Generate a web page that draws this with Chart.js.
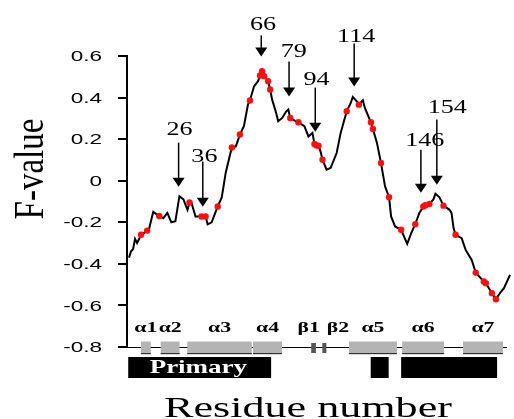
<!DOCTYPE html>
<html>
<head>
<meta charset="utf-8">
<style>
  html, body { margin: 0; padding: 0; background: #fff; }
  #wrap { width: 514px; height: 419px; }
</style>
<script src="https://cdn.jsdelivr.net/npm/chart.js@4/dist/chart.umd.min.js"></script>
</head>
<body>
<div id="wrap"><canvas id="fchart" width="514" height="419"></canvas></div>
<script>
'use strict';

// F-value per residue
var residues = [1, 2, 3, 4, 5, 7, 8, 10, 11, 13, 16, 18, 20, 22, 24, 26, 28, 30, 31, 32,
	34, 37, 39, 40, 42, 45, 47, 49, 51, 52, 54, 56, 58, 60, 61, 63, 65, 66, 67, 68,
	70, 71, 72, 74, 75, 77, 79, 80, 81, 83, 85, 88, 90, 92, 93, 94, 95, 96, 97, 99,
	101, 104, 106, 109, 111, 112, 114, 115, 117, 118, 121, 122, 124, 126, 128, 130, 131, 133, 136, 139,
	141, 143, 145, 147, 148, 150, 152, 153, 155, 157, 160, 161, 162, 163, 166, 168, 171, 173, 174, 177,
	178, 180, 181, 183, 185, 187, 190];
var fValues = [-0.37, -0.34, -0.33, -0.28, -0.30, -0.26, -0.255, -0.24, -0.23, -0.15, -0.17, -0.18, -0.155, -0.20, -0.195, -0.075, -0.09, -0.14, -0.105, -0.107,
	-0.172, -0.172, -0.172, -0.21, -0.20, -0.124, -0.08, 0.04, 0.12, 0.16, 0.165, 0.222, 0.262, 0.366, 0.386, 0.454, 0.479, 0.506, 0.527, 0.503,
	0.479, 0.439, 0.39, 0.326, 0.286, 0.302, 0.334, 0.342, 0.302, 0.29, 0.281, 0.262, 0.213, 0.23, 0.177, 0.17, 0.168, 0.141, 0.101, 0.053,
	0.061, 0.133, 0.23, 0.334, 0.374, 0.403, 0.382, 0.366, 0.387, 0.35, 0.281, 0.249, 0.182, 0.085, -0.027, -0.079, -0.172, -0.22, -0.236, -0.304,
	-0.252, -0.209, -0.156, -0.124, -0.118, -0.112, -0.09, -0.063, -0.08, -0.12, -0.14, -0.156, -0.228, -0.26, -0.276, -0.333, -0.381, -0.442, -0.453, -0.485,
	-0.493, -0.525, -0.541, -0.57, -0.541, -0.517, -0.453];

// residues marked with red dots
var sigResidues = [7, 10, 16, 31, 37, 39, 45, 52, 56, 61, 66, 67, 68, 70, 71, 81, 85, 93, 94, 95,
	97, 109, 115, 121, 122, 126, 130, 136, 143, 147, 148, 150, 157, 163, 173, 177, 178, 181, 183];

// y axis ticks
var yMin = -0.8, yMax = 0.6, yStep = 0.2;

// arrow labels
var markLabels = ['26', '36', '66', '79', '94', '114', '146', '154'];

// secondary structure (residue ranges)
var helixNames = ['α1', 'α2', 'α3', 'α4', 'α5', 'α6', 'α7'];
var helixStart = [6.9, 16.7, 29.9, 62.5, 110.1, 136.5, 166.7];
var helixEnd = [11.8, 26.1, 61.9, 76.9, 133.9, 157.3, 186.5];
var strandNames = ['β1', 'β2'];
var strandStart = [91.4, 96.9];
var strandEnd = [93.7, 98.9];
var regionNames = ['Primary', '', ''];
var regionStart = [0.6, 120.9, 136];
var regionEnd = [71.5, 129.8, 183.6];

// layout of the arrows (x in residues, y in F units)
var arrowLayout = {
	x: [25.6, 37.6, 66.6, 80.4, 93.4, 112.7, 145.8, 153.7],
	tip: [-0.029, -0.125, 0.598, 0.405, 0.236, 0.453, -0.058, -0.019],
	tail: [0.183, 0.092, 0.699, 0.573, 0.448, 0.66, 0.149, 0.294],
	textX: [26.1, 38.4, 67.5, 82.7, 94.0, 113.7, 147.7, 158.9],
	textY: [0.220, 0.090, 0.725, 0.597, 0.460, 0.669, 0.167, 0.324]
};
var strandLabelAt = [90.1, 104.6];
var backboneEnd = 188.5;

// the figure is stretched sideways, so is all its text
var STRETCH = 1.47;

function stretchText(ctx, text, x, y, sx){
	ctx.save();
	ctx.translate(x, y);
	ctx.scale(sx, 1);
	ctx.fillText(text, 0, 0);
	ctx.restore();
}

var points = residues.map(function(r, i){ return {x: r, y: fValues[i]}; });
var sigPoints = sigResidues.map(function(r){
	return {x: r, y: fValues[residues.indexOf(r)]};
});

var decorations = {
	id: 'decorations',
	afterDraw: function(chart){
		var ctx = chart.ctx,
			xs = chart.scales.x,
			ys = chart.scales.y,
			area = chart.chartArea,
			base = area.bottom,
			i, px, x1, x2;

		ctx.save();

		// y tick labels
		ctx.fillStyle = '#000';
		ctx.font = '15px "Liberation Sans"';
		ctx.textAlign = 'right';
		ctx.textBaseline = 'middle';
		ys.ticks.forEach(function(t){
			var label = Number(t.value.toFixed(1)).toString();
			stretchText(ctx, label, 102, ys.getPixelForValue(t.value) + 1, 1.5);
		});

		// arrows and their numbers
		ctx.strokeStyle = '#000';
		ctx.lineWidth = 1.5;
		for(i = 0; i < markLabels.length; i++){
			px = xs.getPixelForValue(arrowLayout.x[i]);
			var tip = ys.getPixelForValue(arrowLayout.tip[i]),
				tail = ys.getPixelForValue(arrowLayout.tail[i]);
			ctx.beginPath();
			ctx.moveTo(px, tail);
			ctx.lineTo(px, tip - 8);
			ctx.stroke();
			ctx.beginPath();
			ctx.moveTo(px - 6, tip - 9);
			ctx.lineTo(px + 6, tip - 9);
			ctx.lineTo(px, tip);
			ctx.closePath();
			ctx.fill();

			ctx.font = '18px "Liberation Serif"';
			ctx.textAlign = 'center';
			ctx.textBaseline = 'alphabetic';
			stretchText(ctx, markLabels[i], xs.getPixelForValue(arrowLayout.textX[i]),
				ys.getPixelForValue(arrowLayout.textY[i]), 1.45);
		}

		// backbone line
		ctx.lineWidth = 1;
		ctx.beginPath();
		ctx.moveTo(area.left, base + 0.5);
		ctx.lineTo(xs.getPixelForValue(backboneEnd), base + 0.5);
		ctx.stroke();

		// black regions under the structure
		for(i = 0; i < regionNames.length; i++){
			x1 = xs.getPixelForValue(regionStart[i]);
			x2 = xs.getPixelForValue(regionEnd[i]);
			ctx.fillStyle = '#000';
			ctx.fillRect(x1, base + 10, x2 - x1, 21);
			if(regionNames[i]){
				ctx.fillStyle = '#fff';
				ctx.font = 'bold 18px "Liberation Serif"';
				ctx.textAlign = 'center';
				stretchText(ctx, regionNames[i], xs.getPixelForValue(35.4), base + 26, 1.5);
			}
		}

		// helices
		ctx.font = 'bold 15px "Liberation Serif"';
		ctx.textAlign = 'center';
		for(i = 0; i < helixNames.length; i++){
			x1 = xs.getPixelForValue(helixStart[i]);
			x2 = xs.getPixelForValue(helixEnd[i]);
			ctx.fillStyle = '#b4b4b4';
			ctx.fillRect(x1, base - 5.5, x2 - x1, 12.5);
			ctx.fillStyle = '#333';
			ctx.fillRect(x1, base + 6, x2 - x1, 1.2);
			ctx.fillStyle = '#000';
			stretchText(ctx, helixNames[i], (x1 + x2) / 2, base - 15, 1.45);
		}

		// strands
		for(i = 0; i < strandNames.length; i++){
			x1 = xs.getPixelForValue(strandStart[i]);
			x2 = xs.getPixelForValue(strandEnd[i]);
			ctx.fillStyle = '#555';
			ctx.fillRect(x1, base - 4, x2 - x1, 10);
			ctx.fillStyle = '#000';
			stretchText(ctx, strandNames[i], xs.getPixelForValue(strandLabelAt[i]), base - 15, 1.45);
		}

		// axis titles
		ctx.font = '30px "Liberation Serif"';
		ctx.textAlign = 'center';
		ctx.textBaseline = 'alphabetic';
		stretchText(ctx, 'Residue number', 308, 417, STRETCH);

		ctx.save();
		ctx.translate(43, 169);
		ctx.scale(1.25, 1);
		ctx.rotate(-Math.PI / 2);
		ctx.font = '33px "Liberation Serif"';
		ctx.fillText('F-value', 0, 0);
		ctx.restore();

		ctx.restore();
	}
};

new Chart(document.getElementById('fchart').getContext('2d'), {
	type: 'line',
	data: {
		datasets: [{
			type: 'scatter',
			data: sigPoints,
			backgroundColor: '#ff1010',
			borderWidth: 0,
			pointRadius: 3.2,
			clip: false,
			order: 0
		}, {
			data: points,
			borderColor: '#000',
			borderWidth: 2,
			pointRadius: 0,
			tension: 0,
			fill: false,
			clip: false,
			order: 1
		}]
	},
	options: {
		responsive: false,
		devicePixelRatio: 1,
		animation: false,
		layout: { padding: { top: 56, right: 1, bottom: 72, left: 0 } },
		plugins: {
			legend: { display: false },
			tooltip: { enabled: false }
		},
		scales: {
			x: {
				type: 'linear',
				min: 0,
				max: 190,
				display: false
			},
			y: {
				min: yMin,
				max: yMax,
				ticks: { stepSize: yStep, display: false },
				grid: {
					drawOnChartArea: false,
					drawTicks: true,
					tickLength: 9,
					color: '#000',
					lineWidth: 2
				},
				border: { display: true, color: '#000', width: 2 },
				afterFit: function(scale){ scale.width = 127; }
			}
		}
	},
	plugins: [decorations]
});
</script>
</body>
</html>
